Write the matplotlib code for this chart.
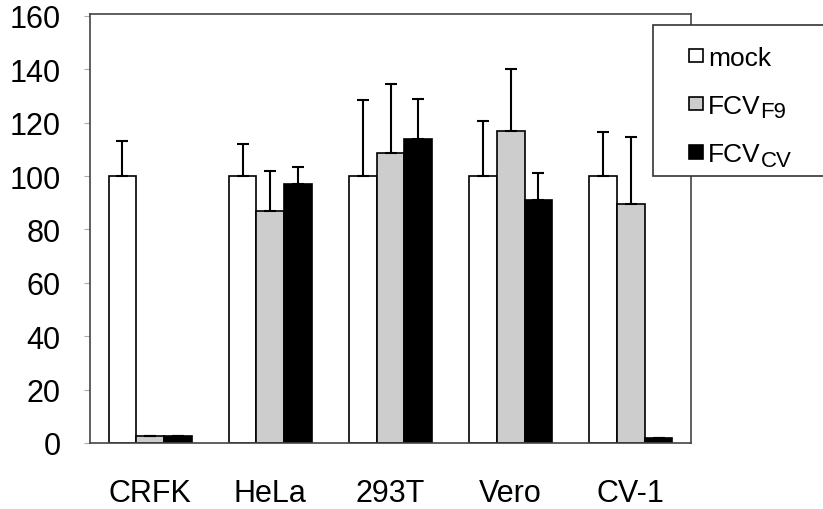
import numpy as np
from matplotlib import pyplot as plt
from matplotlib.patches import Rectangle
from matplotlib.container import BarContainer
from matplotlib.legend_handler import HandlerPatch, update_from_first_child

plt.rcParams['font.family'] = ['Liberation Sans', 'DejaVu Sans']

cells = ['CRFK', 'HeLa', '293T', 'Vero', 'CV-1']
mock = [100, 100, 100, 100, 100]
mock_err = [13, 12, 28.5, 20.5, 16.5]
f9 = [2.5, 87, 108.5, 117, 89.5]
f9_err = [0, 15, 26, 23, 25]
cv = [2.5, 97, 114, 91, 2]
cv_err = [0, 6.5, 15, 10, 0]

# legend names: main part and subscript
series = [
    ('mock', '', mock, mock_err, 'white'),
    ('FCV', 'F9', f9, f9_err, '#cdcdcd'),
    ('FCV', 'CV', cv, cv_err, 'black'),
]


# small square sitting at the right end of the handle area
def square(legend, orig_handle, xdescent, ydescent, width, height, fontsize):
    s = height
    return Rectangle((-xdescent + width - s, -ydescent), s, s)


fig = plt.figure(figsize=(8.23, 5.10), dpi=100)
ax = fig.add_axes([90 / 823, 1 - 444 / 510, 601 / 823, 429 / 510])

x = np.arange(len(cells))
w = 0.23
for i, (name, sub, vals, err, col) in enumerate(series):
    pos = x + (i - 1) * w
    ax.bar(pos, vals, w, color=col, edgecolor='black', linewidth=1.2,
           label=name, zorder=2)
    ax.errorbar(pos, vals, yerr=[np.zeros(len(err)), err], fmt='none',
                ecolor='black', elinewidth=1.5, capsize=4, capthick=1.5,
                zorder=3)

ax.set_xlim(-0.5, 4.5)
ax.set_ylim(0, 160.7)
ax.set_yticks(range(0, 161, 20))
ax.set_xticks(x)
ax.set_xticklabels(cells)
ax.tick_params(axis='x', length=0, pad=25, labelsize=22)
ax.tick_params(axis='y', length=4, color='#aaaaaa', pad=17, labelsize=22)
for s in ax.spines.values():
    s.set_color('#444444')
    s.set_linewidth(1.2)

# legend box, running off the right edge of the picture
ax.add_patch(Rectangle((653 / 823, 1 - 177 / 510), 0.3, 151 / 510,
                       transform=fig.transFigure, clip_on=False, zorder=4.5,
                       facecolor='white', edgecolor='#333333', linewidth=1.2))

sq = HandlerPatch(patch_func=square, update_func=update_from_first_child)
leg = ax.legend(loc='upper left', bbox_to_anchor=(653 / 823, 1 - 29 / 510),
                bbox_transform=fig.transFigure, fontsize=19, frameon=False,
                borderaxespad=0, handlelength=1.2, handleheight=0.4,
                handletextpad=0.2, labelspacing=0.92, borderpad=0.68,
                handler_map={BarContainer: sq})

# subscripts drawn just after the legend texts
for txt, (name, sub, *_rest) in zip(leg.get_texts(), series):
    if sub:
        ax.annotate(sub, xy=(1, 0), xycoords=txt, xytext=(0, -3),
                    textcoords='offset points', fontsize=16, ha='left',
                    va='bottom', annotation_clip=False, zorder=6)

plt.savefig('out.png', dpi=100)
